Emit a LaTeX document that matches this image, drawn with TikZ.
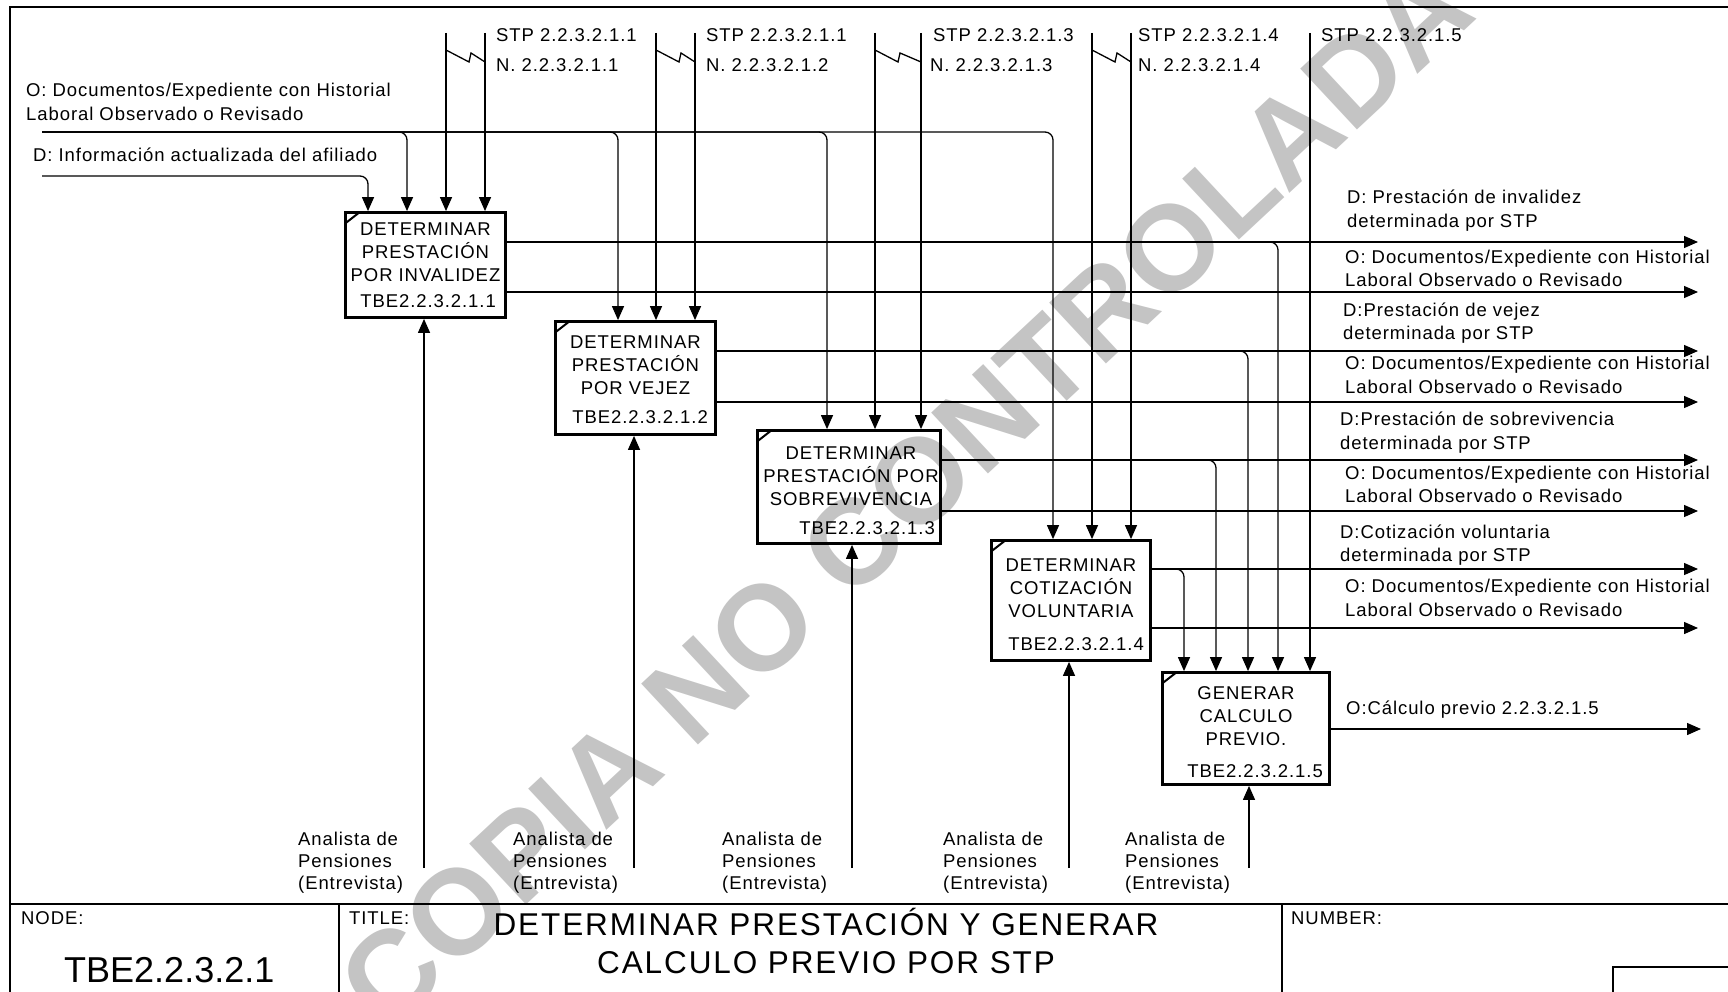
\documentclass[tikz,border=0pt]{standalone}
\usepackage{fontspec}
\setmainfont{Liberation Sans}[LetterSpace=5]
\usetikzlibrary{arrows.meta}
\definecolor{wmgray}{RGB}{196,196,196}
\newcommand\fA{\fontsize{18.5}{23}\selectfont}
\newcommand\fTitle{\fontsize{31.5}{36}\selectfont\addfontfeatures{LetterSpace=6}}
\newcommand\fNode{\fontsize{36}{40}\selectfont\addfontfeatures{LetterSpace=0}}
\newcommand\fWm{\fontsize{121}{121}\selectfont\bfseries\addfontfeatures{LetterSpace=0}}
\begin{document}
\begin{tikzpicture}[x=1pt,y=-1pt,
  conn/.style={line width=1.3pt},
  arr/.style={conn,-{Triangle[length=14pt,width=12pt]}},
  box/.style={draw,line width=2.8pt,inner sep=0pt},
  corner/.style={line width=2pt},
  btxt/.style={align=center,inner sep=0pt,font=\fA},
  tbe/.style={anchor=base east,inner sep=0pt,font=\fA},
  lbl/.style={anchor=base west,inner sep=0pt,font=\fA},
  frame/.style={line width=2pt},
  wmark/.style={rotate=43,text=wmgray,inner sep=0pt,font=\fWm},
  rc/.style={rounded corners=8pt}
  ]
\useasboundingbox (0,0) rectangle (1728,992);

% watermark
\node[wmark] (wm) at (905,495) {COPIA NO CONTROLADA};

% frame and title block
\draw[frame] (10,992) -- (10,7) -- (1728,7);
\draw[frame] (10,904) -- (1728,904);
\draw[frame] (339,904) -- (339,992);
\draw[frame] (1282,904) -- (1282,992);
\draw[conn] (1613,992) -- (1613,967) -- (1728,967);
\node[lbl] (nodelbl) at (21,924) {NODE:};
\node[anchor=base west,inner sep=0pt,font=\fNode] (nodenum) at (64,982) {TBE2.2.3.2.1};
\node[lbl] (titlelbl) at (349,924) {TITLE:};
\node[anchor=base,inner sep=0pt,font=\fTitle] (title1) at (826,935) {DETERMINAR PRESTACIÓN Y GENERAR};
\node[anchor=base,inner sep=0pt,font=\fTitle] (title2) at (826,973) {CALCULO PREVIO POR STP};
\node[lbl] (numlbl) at (1291,924) {NUMBER:};

% boxes
\node[box,minimum width=160pt,minimum height=105pt] (b1) at (425.5,265) {};
\node[box,minimum width=160pt,minimum height=113pt] (b2) at (635.5,378) {};
\node[box,minimum width=183pt,minimum height=113pt] (b3) at (849,487) {};
\node[box,minimum width=159pt,minimum height=120pt] (b4) at (1071,600.5) {};
\node[box,minimum width=167pt,minimum height=112pt] (b5) at (1246,728.5) {};
\foreach \b in {b1,b2,b3,b4,b5}{
  \draw[corner] ([xshift=1.5pt,yshift=-12pt]\b.north west) -- ([xshift=15pt,yshift=-1.5pt]\b.north west);
}

\node[btxt] (t1) at (425.5,252) {DETERMINAR\\PRESTACIÓN\\POR INVALIDEZ};
\node[btxt] (t2) at (635.5,365) {DETERMINAR\\PRESTACIÓN\\POR VEJEZ};
\node[btxt] (t3) at (851,476) {DETERMINAR\\PRESTACIÓN POR\\SOBREVIVENCIA};
\node[btxt] (t4) at (1071,588) {DETERMINAR\\COTIZACIÓN\\VOLUNTARIA};
\node[btxt] (t5) at (1246,716) {GENERAR\\CALCULO\\PREVIO.};
\node[tbe] (n1) at (496,307) {TBE2.2.3.2.1.1};
\node[tbe] (n2) at (708,423) {TBE2.2.3.2.1.2};
\node[tbe] (n3) at (935,534) {TBE2.2.3.2.1.3};
\node[tbe] (n4) at (1144,650) {TBE2.2.3.2.1.4};
\node[tbe] (n5) at (1323,777) {TBE2.2.3.2.1.5};

% top control lines
\coordinate (c1a) at (446,33); \coordinate (c1b) at (485,33);
\coordinate (c2a) at (656,33); \coordinate (c2b) at (695,33);
\coordinate (c3a) at (875,33); \coordinate (c3b) at (921,33);
\coordinate (c4a) at (1092,33); \coordinate (c4b) at (1131,33);
\coordinate (c5) at (1310,33);
\draw[arr] (c1a) -- (c1a |- b1.north);
\draw[arr] (c1b) -- (c1b |- b1.north);
\draw[arr] (c2a) -- (c2a |- b2.north);
\draw[arr] (c2b) -- (c2b |- b2.north);
\draw[arr] (c3a) -- (c3a |- b3.north);
\draw[arr] (c3b) -- (c3b |- b3.north);
\draw[arr] (c4a) -- (c4a |- b4.north);
\draw[arr] (c4b) -- (c4b |- b4.north);
\draw[arr] (c5) -- (c5 |- b5.north);
% zigzags
\foreach \l/\r in {c1a/c1b,c2a/c2b,c3a/c3b,c4a/c4b}{
  \draw[conn] ([yshift=-17pt]\l) -- ([xshift=23pt,yshift=-29pt]\l) -- ([xshift=25pt,yshift=-20pt]\l) -- ([yshift=-29pt]\r);
}
\node[lbl] (stp1) at (496,42) {STP 2.2.3.2.1.1};
\node[lbl] (nn1) at (496,72) {N. 2.2.3.2.1.1};
\node[lbl] (stp2) at (706,42) {STP 2.2.3.2.1.1};
\node[lbl] (nn2) at (706,72) {N. 2.2.3.2.1.2};
\node[lbl] (stp3) at (933,42) {STP 2.2.3.2.1.3};
\node[lbl] (nn3) at (930,72) {N. 2.2.3.2.1.3};
\node[lbl] (stp4) at (1138,42) {STP 2.2.3.2.1.4};
\node[lbl] (nn4) at (1138,72) {N. 2.2.3.2.1.4};
\node[lbl] (stp5) at (1321,42) {STP 2.2.3.2.1.5};

% inputs
\coordinate (oin) at (42,132);
\coordinate (din) at (42,176);
\coordinate (x11) at (368,0); \coordinate (x12) at (407,0);
\coordinate (x21) at (618,0); \coordinate (x31) at (827,0); \coordinate (x41) at (1053,0);
\draw[arr,rc] (din) -| (x11 |- b1.north);
\draw[arr,rc] (oin) -| (x12 |- b1.north);
\draw[arr,rc] (oin) -| (x21 |- b2.north);
\draw[arr,rc] (oin) -| (x31 |- b3.north);
\draw[arr,rc] (oin) -| (x41 |- b4.north);
\node[lbl] (oinl1) at (26,97) {O: Documentos/Expediente con Historial};
\node[lbl] (oinl2) at (26,121) {Laboral Observado o Revisado};
\node[lbl] (dinl) at (33,162) {D: Información actualizada del afiliado};

% outputs
\coordinate (o1) at (1698,242); \coordinate (o2) at (1698,292);
\coordinate (o3) at (1698,351); \coordinate (o4) at (1698,402);
\coordinate (o5) at (1698,460); \coordinate (o6) at (1698,511);
\coordinate (o7) at (1698,569); \coordinate (o8) at (1698,628);
\coordinate (o9) at (1701,729);
\draw[arr] (b1.east |- o1) -- (o1);
\draw[arr] (b1.east |- o2) -- (o2);
\draw[arr] (b2.east |- o3) -- (o3);
\draw[arr] (b2.east |- o4) -- (o4);
\draw[arr] (b3.east |- o5) -- (o5);
\draw[arr] (b3.east |- o6) -- (o6);
\draw[arr] (b4.east |- o7) -- (o7);
\draw[arr] (b4.east |- o8) -- (o8);
\draw[arr] (b5.east |- o9) -- (o9);
% branches into box 5
\coordinate (x51) at (1184,0); \coordinate (x52) at (1216,0);
\coordinate (x53) at (1248,0); \coordinate (x54) at (1278,0);
\draw[arr,rc] (b1.east |- o1) -| (x54 |- b5.north);
\draw[arr,rc] (b2.east |- o3) -| (x53 |- b5.north);
\draw[arr,rc] (b3.east |- o5) -| (x52 |- b5.north);
\draw[arr,rc] (b4.east |- o7) -| (x51 |- b5.north);

\node[lbl] (ol1a) at (1347,204) {D: Prestación de invalidez};
\node[lbl] (ol1b) at (1347,228) {determinada por STP};
\node[lbl] (ol2a) at (1345,263) {O: Documentos/Expediente con Historial};
\node[lbl] (ol2b) at (1345,286) {Laboral Observado o Revisado};
\node[lbl] (ol3a) at (1343,316) {D:Prestación de vejez};
\node[lbl] (ol3b) at (1343,339) {determinada por STP};
\node[lbl] (ol4a) at (1345,369) {O: Documentos/Expediente con Historial};
\node[lbl] (ol4b) at (1345,393) {Laboral Observado o Revisado};
\node[lbl] (ol5a) at (1340,425) {D:Prestación de sobrevivencia};
\node[lbl] (ol5b) at (1340,449) {determinada por STP};
\node[lbl] (ol6a) at (1345,479) {O: Documentos/Expediente con Historial};
\node[lbl] (ol6b) at (1345,502) {Laboral Observado o Revisado};
\node[lbl] (ol7a) at (1340,538) {D:Cotización voluntaria};
\node[lbl] (ol7b) at (1340,561) {determinada por STP};
\node[lbl] (ol8a) at (1345,592) {O: Documentos/Expediente con Historial};
\node[lbl] (ol8b) at (1345,616) {Laboral Observado o Revisado};
\node[lbl] (ol9) at (1346,714) {O:Cálculo previo 2.2.3.2.1.5};

% mechanisms
\coordinate (m1) at (424,868); \coordinate (m2) at (634,868);
\coordinate (m3) at (852,868); \coordinate (m4) at (1069,868);
\coordinate (m5) at (1249,868);
\draw[arr] (m1) -- (m1 |- b1.south);
\draw[arr] (m2) -- (m2 |- b2.south);
\draw[arr] (m3) -- (m3 |- b3.south);
\draw[arr] (m4) -- (m4 |- b4.south);
\draw[arr] (m5) -- (m5 |- b5.south);
\foreach \i/\x in {1/298,2/513,3/722,4/943,5/1125}{
  \node[lbl] (ma\i) at (\x,845) {Analista de};
  \node[lbl] (mb\i) at (\x,867) {Pensiones};
  \node[lbl] (mc\i) at (\x,889) {(Entrevista)};
}
\end{tikzpicture}
\end{document}
